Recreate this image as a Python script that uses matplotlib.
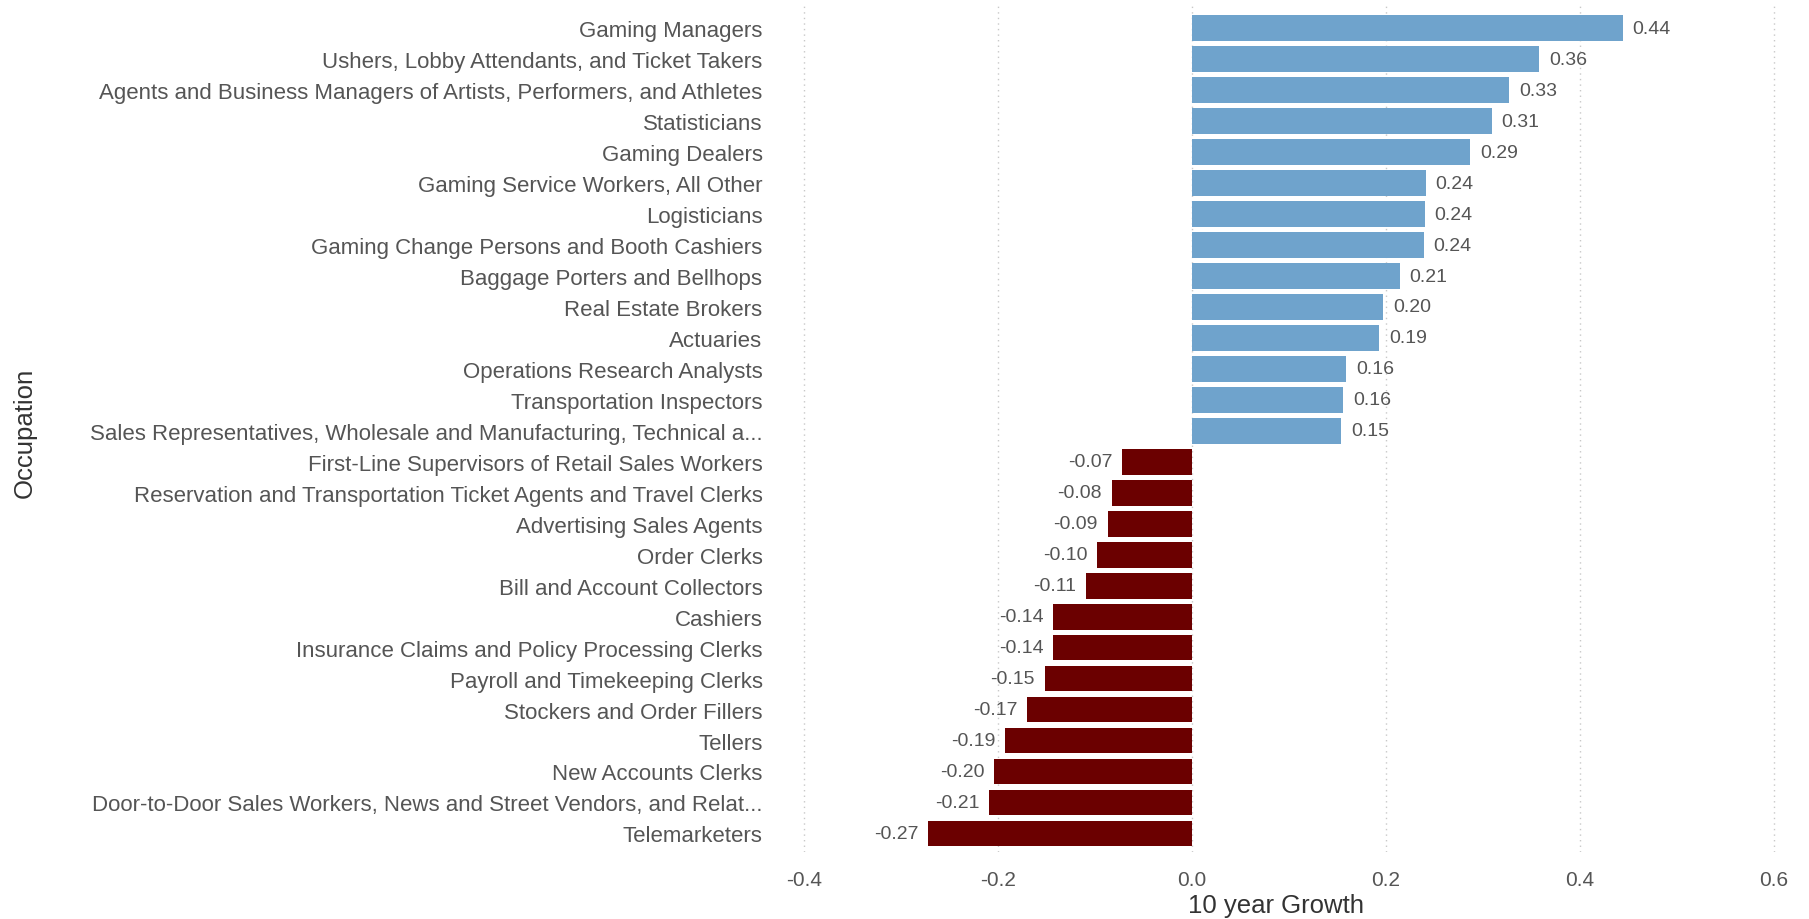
import matplotlib.pyplot as plt
import numpy as np

# occupations, ordered top to bottom
occupations = [
    "Gaming Managers",
    "Ushers, Lobby Attendants, and Ticket Takers",
    "Agents and Business Managers of Artists, Performers, and Athletes",
    "Statisticians",
    "Gaming Dealers",
    "Gaming Service Workers, All Other",
    "Logisticians",
    "Gaming Change Persons and Booth Cashiers",
    "Baggage Porters and Bellhops",
    "Real Estate Brokers",
    "Actuaries",
    "Operations Research Analysts",
    "Transportation Inspectors",
    "Sales Representatives, Wholesale and Manufacturing, Technical a...",
    "First-Line Supervisors of Retail Sales Workers",
    "Reservation and Transportation Ticket Agents and Travel Clerks",
    "Advertising Sales Agents",
    "Order Clerks",
    "Bill and Account Collectors",
    "Cashiers",
    "Insurance Claims and Policy Processing Clerks",
    "Payroll and Timekeeping Clerks",
    "Stockers and Order Fillers",
    "Tellers",
    "New Accounts Clerks",
    "Door-to-Door Sales Workers, News and Street Vendors, and Relat...",
    "Telemarketers",
]
growth = [0.444, 0.358, 0.327, 0.309, 0.287, 0.241, 0.240, 0.239, 0.214,
          0.197, 0.193, 0.159, 0.156, 0.154,
          -0.072, -0.083, -0.087, -0.098, -0.109, -0.143, -0.143, -0.152,
          -0.170, -0.193, -0.204, -0.209, -0.272]
x_ticks = [-0.4, -0.2, 0.0, 0.2, 0.4, 0.6]

pos_color = "#6fa3cc"
neg_color = "#6b0000"
txt_color = "#555555"

plt.rcParams['font.family'] = ['Liberation Sans', 'DejaVu Sans']

W, H = 1809, 920
fig = plt.figure(figsize=(W / 100, H / 100), dpi=100)
ax = fig.add_axes([775 / W, 1 - 853 / H, (1803 - 775) / W, (853 - 7) / H])

y = np.arange(len(occupations))
colors = [pos_color if v >= 0 else neg_color for v in growth]
ax.barh(y, growth, height=0.83, color=colors, zorder=2)

# value labels next to the bar ends
for yi, v in zip(y, growth):
    if v >= 0:
        ax.text(v + 0.01, yi, f"{v:.2f}", va='center', ha='left', fontsize=14, color=txt_color)
    else:
        ax.text(v - 0.01, yi, f"{v:.2f}", va='center', ha='right', fontsize=14, color=txt_color)

ax.set_ylim(len(occupations) - 0.4, -0.72)
ax.set_xlim(-0.43, 0.63)
ax.set_yticks(y)
ax.set_yticklabels(occupations, fontsize=16, color=txt_color)
ax.set_xticks(x_ticks)
ax.set_xticklabels([f"{t:.1f}" for t in x_ticks], fontsize=15, color=txt_color)
ax.tick_params(axis='x', length=0, pad=13)
ax.tick_params(axis='y', length=0, pad=9)

ax.grid(axis='x', linestyle=(0, (1, 3)), color="#c8c8c8", linewidth=1, zorder=0)
for s in ax.spines.values():
    s.set_visible(False)

ax.set_xlabel("10 year Growth", fontsize=18.5, color="#333333")
ax.xaxis.set_label_coords((1276 - 775) / 1028, -(906 - 853) / 846, transform=ax.transAxes)
ax.xaxis.label.set_va('center')
fig.text(25 / W, 1 - 433 / H, "Occupation", rotation=90, fontsize=18.5,
         color="#333333", ha='center', va='center')

fig.savefig("out.png", dpi=100)
